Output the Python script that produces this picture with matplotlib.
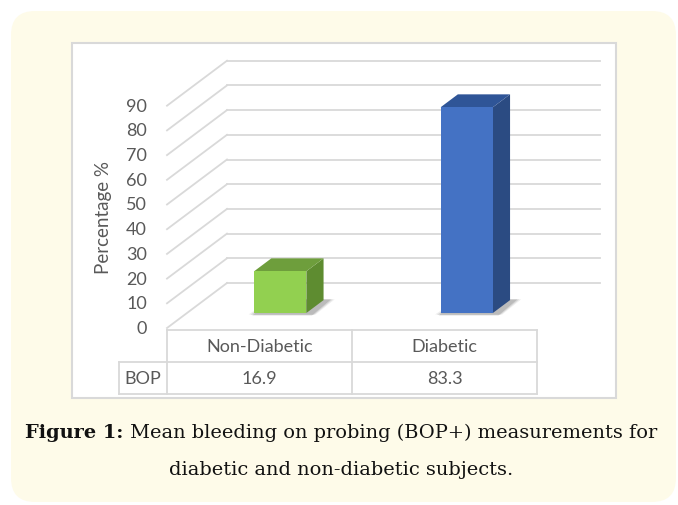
import matplotlib
matplotlib.use('Agg')
import matplotlib.pyplot as plt
from matplotlib.patches import FancyBboxPatch, Rectangle, Polygon
from matplotlib.transforms import ScaledTranslation

# data
categories = ['Non-Diabetic', 'Diabetic']
bop_values = [16.9, 83.3]
row_label = 'BOP'
y_ticks = [0, 10, 20, 30, 40, 50, 60, 70, 80, 90]
y_label = 'Percentage %'
caption_bold = 'Figure 1:'
caption_line1 = ' Mean bleeding on probing (BOP+) measurements for'
caption_line2 = 'diabetic and non-diabetic subjects.'

front_colors = ['#92D050', '#4472C4']
top_colors = ['#6E9E3C', '#2F5597']
side_colors = ['#5E8C30', '#2B4B82']

W, H = 678, 505
fig = plt.figure(figsize=(W / 100, H / 100), dpi=100)
fig.patch.set_facecolor('white')

# background layer in pixel units
bg = fig.add_axes([0, 0, 1, 1])
bg.set_xlim(0, W)
bg.set_ylim(H, 0)
bg.axis('off')
bg.add_patch(FancyBboxPatch((11, 11), 665, 491, boxstyle='round,pad=0,rounding_size=24',
                            facecolor='#FEFBE9', edgecolor='none'))
bg.add_patch(Rectangle((72, 43), 544, 355, facecolor='white', edgecolor='#D9D9D9', lw=1.5))

# chart axes: front plane, x in category slots, y in percent
PX_X = 186.5          # pixels per category slot
PX_Y = 2.47           # pixels per percent
YTOP = 112
ax = fig.add_axes([167 / W, (H - 328) / H, 2 * PX_X / W, YTOP * PX_Y / H])
ax.set_xlim(0, 2)
ax.set_ylim(0, YTOP)
ax.axis('off')
ax.set_zorder(2)

DX = 60 / PX_X        # full depth, x shift
DY = 45 / PX_Y        # full depth, y shift
grid_c = '#D9D9D9'

for t in y_ticks:
    ax.plot([0, DX], [t, t + DY], color=grid_c, lw=1.3, clip_on=False, zorder=1)
    ax.plot([DX, 2 + DX], [t + DY, t + DY], color=grid_c, lw=1.3, clip_on=False, zorder=1)

lab_off = ax.transData + ScaledTranslation(-20 / 100, -1 / 100, fig.dpi_scale_trans)
for t in y_ticks:
    ax.text(0, t, str(t), transform=lab_off, ha='right', va='center',
            fontsize=13, color='#595959', family='Lato')

# 3D bars
bw = 0.28
d0, d1 = 1 / 3, 0.62
for i, v in enumerate(bop_values):
    x0 = i + 0.5 - bw / 2
    x1 = x0 + bw
    ox0, oy0 = d0 * DX, d0 * DY
    ox1, oy1 = d1 * DX, d1 * DY
    # soft shadow on the floor
    for k, a in enumerate([0.08, 0.12, 0.16]):
        g = 0.03 - k * 0.01
        shadow = [(x0 + ox0 - g, oy0 - 0.6 - k * 0.2), (x1 + ox0 + g + 0.02, oy0 - 0.6 - k * 0.2),
                  (x1 + ox1 + g + 0.03, oy1 + 0.3), (x0 + ox1, oy1 + 0.3)]
        ax.add_patch(Polygon(shadow, closed=True, facecolor='#303030', alpha=a,
                             edgecolor='none', zorder=2, clip_on=False))
    front = [(x0 + ox0, oy0), (x1 + ox0, oy0), (x1 + ox0, v + oy0), (x0 + ox0, v + oy0)]
    side = [(x1 + ox0, oy0), (x1 + ox1, oy1), (x1 + ox1, v + oy1), (x1 + ox0, v + oy0)]
    top = [(x0 + ox0, v + oy0), (x1 + ox0, v + oy0), (x1 + ox1, v + oy1), (x0 + ox1, v + oy1)]
    ax.add_patch(Polygon(side, closed=True, facecolor=side_colors[i], edgecolor='none', zorder=3, clip_on=False))
    ax.add_patch(Polygon(top, closed=True, facecolor=top_colors[i], edgecolor='none', zorder=3, clip_on=False))
    ax.add_patch(Polygon(front, closed=True, facecolor=front_colors[i], edgecolor='none', zorder=4, clip_on=False))

fig.text(103 / W, 1 - 218 / H, y_label, rotation=90, ha='center', va='center',
         fontsize=13.5, color='#595959', family='Lato')

# data table
tc = '#D9D9D9'
tx = [167, 352, 537]
bg.plot([tx[0], tx[2]], [330, 330], color=tc, lw=1.3)
bg.plot([119, tx[2]], [362, 362], color=tc, lw=1.3)
bg.plot([119, tx[2]], [394, 394], color=tc, lw=1.3)
for x in tx:
    bg.plot([x, x], [330, 394], color=tc, lw=1.3)
bg.plot([119, 119], [362, 394], color=tc, lw=1.3)
for i, c in enumerate(categories):
    cx = (tx[i] + tx[i + 1]) / 2
    bg.text(cx, 347, c, ha='center', va='center', fontsize=13, color='#595959', family='Lato')
    bg.text(cx, 379, f'{bop_values[i]:.1f}', ha='center', va='center', fontsize=13,
            color='#595959', family='Lato')
bg.text(143, 379, row_label, ha='center', va='center', fontsize=13, color='#595959', family='Lato')

# caption, sized so line 1 spans the same width as in the original
fig.canvas.draw()
r = fig.canvas.get_renderer()
cap_fs = 13.5
tb = bg.text(0, 438, caption_bold, fontsize=cap_fs, fontweight='bold', family='DejaVu Serif',
             color='#111111', va='baseline', ha='left')
tr = bg.text(0, 438, caption_line1, fontsize=cap_fs, family='DejaVu Serif',
             color='#111111', va='baseline', ha='left')
total = tb.get_window_extent(r).width + tr.get_window_extent(r).width
cap_fs = cap_fs * 628 / total
tb.set_fontsize(cap_fs)
tr.set_fontsize(cap_fs)
wb = tb.get_window_extent(r).width
wr = tr.get_window_extent(r).width
start = 341 - (wb + wr) / 2
tb.set_x(start)
tr.set_x(start + wb)
bg.text(341, 475, caption_line2, fontsize=cap_fs, family='DejaVu Serif', color='#111111',
        va='baseline', ha='center')

fig.savefig('out.png', dpi=100)
